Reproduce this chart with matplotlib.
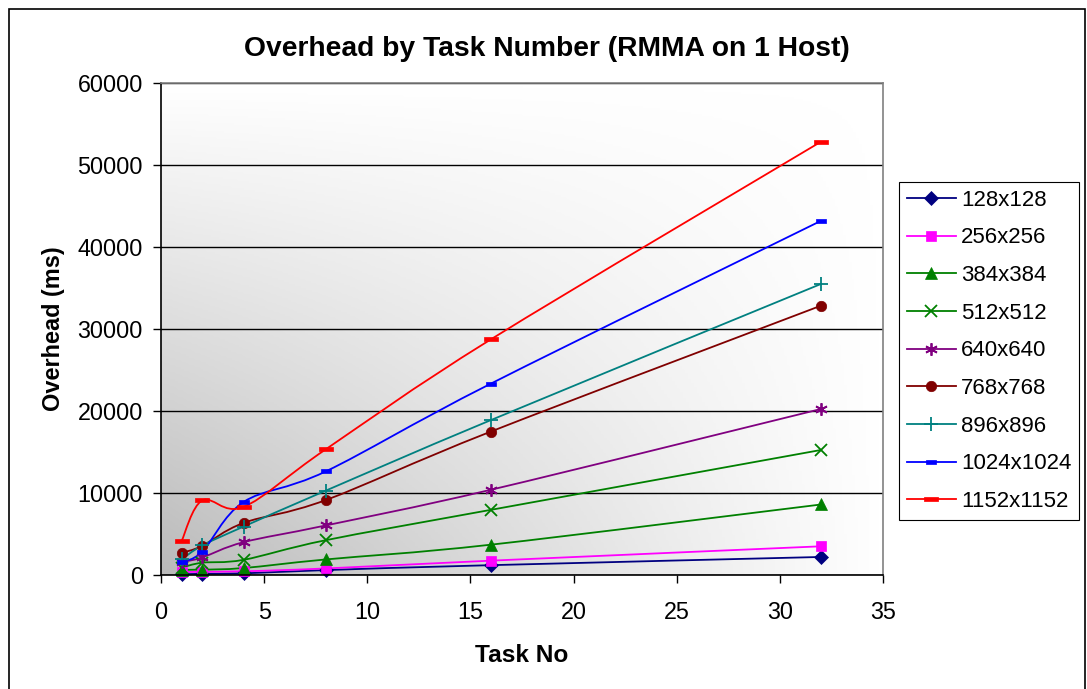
import numpy as np
import matplotlib
matplotlib.use("Agg")
import matplotlib.pyplot as plt
from matplotlib.path import Path
from matplotlib.patches import PathPatch, Rectangle
from matplotlib.lines import Line2D
from matplotlib.colors import LinearSegmentedColormap

plt.rcParams['font.family'] = ['Liberation Sans', 'DejaVu Sans']

tasks = [1, 2, 4, 8, 16, 32]
labels = ['128x128', '256x256', '384x384', '512x512', '640x640',
          '768x768', '896x896', '1024x1024', '1152x1152']
s128 = [80, 150, 200, 600, 1200, 2200]
s256 = [350, 400, 450, 800, 1750, 3500]
s384 = [650, 650, 850, 1900, 3700, 8600]
s512 = [900, 1500, 1850, 4250, 7950, 15250]
s640 = [1550, 2150, 4000, 6050, 10400, 20250]
s768 = [2700, 3550, 6350, 9150, 17500, 32850]
s896 = [1900, 3600, 5900, 10300, 18900, 35500]
s1024 = [1600, 2850, 8900, 12650, 23350, 43200]
s1152 = [4150, 9100, 8300, 15350, 28750, 52850]
series = [s128, s256, s384, s512, s640, s768, s896, s1024, s1152]

colors = ['#000080', '#FF00FF', '#008000', '#008000', '#800080',
          '#800000', '#008080', '#0000FF', '#FF0000']
rect_s = [(-2, -1), (2, -1), (2, 1), (-2, 1), (-2, -1)]
rect_l = [(-3, -1), (3, -1), (3, 1), (-3, 1), (-3, -1)]
markers = ['D', 's', '^', 'x', (6, 2, 0), 'o', '+', rect_s, rect_l]
msizes = [7, 7, 8, 9, 9, 7.5, 10, 7, 10]


def smooth_path(xs, ys):
    # excel style smoothed line: bezier segments with catmull-rom control points
    pts = np.column_stack([xs, ys]).astype(float)
    n = len(pts)
    verts = [pts[0]]
    codes = [Path.MOVETO]
    for i in range(n - 1):
        p0 = pts[max(i - 1, 0)]
        p1 = pts[i]
        p2 = pts[i + 1]
        p3 = pts[min(i + 2, n - 1)]
        c1 = p1 + (p2 - p0) / 6.0
        c2 = p2 - (p3 - p1) / 6.0
        verts += [c1, c2, p2]
        codes += [Path.CURVE4] * 3
    return Path(verts, codes)


fig = plt.figure(figsize=(10.87, 6.89), dpi=100)
ax = fig.add_axes([161/1087, 1 - 575/689, 722/1087, 492/689])

# gradient background, dark at lower left corner
n = 256
u = np.linspace(0, 1, n)
U, V = np.meshgrid(u, u)
T = 1 - (1 - U) * (1 - V)
cmap = LinearSegmentedColormap.from_list('bg', ['#bababa', '#ffffff'])
ax.imshow(T, cmap=cmap, origin='lower', extent=[0, 35, 0, 60000],
          aspect='auto', zorder=0, vmin=0, vmax=1)

handles = []
for ys, c, m, ms in zip(series, colors, markers, msizes):
    ax.add_patch(PathPatch(smooth_path(tasks, ys), facecolor='none',
                           edgecolor=c, lw=1.3, zorder=3))
    mew = 1.3 if m in ('x', '+', (6, 2, 0)) else 0.5
    ax.plot(tasks, ys, linestyle='none', marker=m, ms=ms, color=c,
            mec=c, mew=mew, zorder=4, clip_on=False)
    handles.append(Line2D([0], [0], color=c, lw=1.3, marker=m, ms=ms,
                          mec=c, mew=mew))

ax.set_xlim(0, 35)
ax.set_ylim(0, 60000)
ax.set_xticks(range(0, 36, 5))
ax.set_yticks(range(0, 60001, 10000))
ax.yaxis.grid(True, color='black', lw=1.0)
for gl in ax.get_ygridlines():
    gl.set_zorder(1)
ax.tick_params(direction='out', length=6, width=1, labelsize=16.8)
ax.tick_params(axis='x', pad=13)
ax.tick_params(axis='y', pad=7)
ax.spines['left'].set_color('black')
ax.spines['bottom'].set_color('black')
ax.spines['top'].set_color('#808080')
ax.spines['right'].set_color('#808080')
for s in ax.spines.values():
    s.set_linewidth(1.2)
    s.set_zorder(5)

ax.set_xlabel('Task No', fontsize=17.6, fontweight='bold', labelpad=14)
ax.set_ylabel('Overhead (ms)', fontsize=16.9, fontweight='bold', labelpad=9)
fig.text(0.503, 1 - 49/689, 'Overhead by Task Number (RMMA on 1 Host)',
         ha='center', va='center', fontsize=20.3, fontweight='bold')

leg = fig.legend(handles, labels, loc='upper left',
                 bbox_to_anchor=(899/1087, 1 - 182/689), fontsize=16,
                 frameon=True, fancybox=False, edgecolor='black',
                 framealpha=1, handlelength=2.2, labelspacing=0.75,
                 handletextpad=0.25, borderpad=0.35, borderaxespad=0)
leg.get_frame().set_linewidth(0.8)

# outer chart border
fig.add_artist(Rectangle((9/1087, -0.01), 1076/1087, 1 - 9/689 + 0.01,
                         transform=fig.transFigure, fill=False,
                         edgecolor='black', lw=1.2))

fig.savefig('out.png', dpi=100)
